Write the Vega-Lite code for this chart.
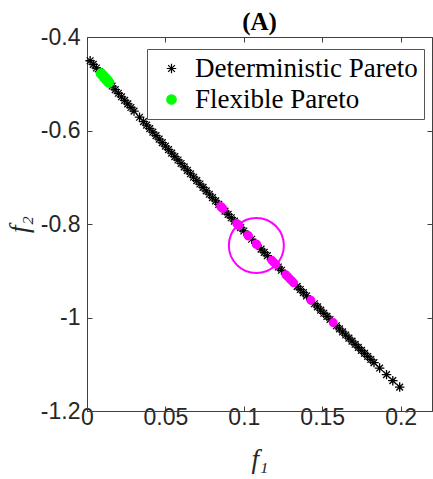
{
  "$schema": "https://vega.github.io/schema/vega-lite/v6.json",
  "width": 345,
  "height": 374,
  "autosize": {"type": "none"},
  "padding": {"left": 87, "top": 37, "right": 1, "bottom": 68},
  "title": {"text": "(A)", "font": "Liberation Serif", "fontSize": 25, "fontWeight": "bold", "color": "#000000", "anchor": "middle", "offset": 6, "dy": 15},
  "config": {
    "view": {"stroke": "#404040", "strokeWidth": 1},
    "axis": {"grid": false, "labelFont": "Liberation Sans", "labelFontSize": 23, "labelColor": "#262626", "tickColor": "#404040", "domainColor": "#404040", "labelFlush": false, "labelOverlap": false, "tickSize": -5}
  },
  "datasets": {
    "pts": [
      {"f1": 0.002, "f2": -0.4508, "series": "Deterministic Pareto"},
      {"f1": 0.004, "f2": -0.4586, "series": "Deterministic Pareto"},
      {"f1": 0.006, "f2": -0.4663, "series": "Deterministic Pareto"},
      {"f1": 0.008, "f2": -0.4741, "series": "Deterministic Pareto"},
      {"f1": 0.010, "f2": -0.4818, "series": "Deterministic Pareto"},
      {"f1": 0.012, "f2": -0.4895, "series": "Deterministic Pareto"},
      {"f1": 0.014, "f2": -0.4972, "series": "Deterministic Pareto"},
      {"f1": 0.016, "f2": -0.5049, "series": "Deterministic Pareto"},
      {"f1": 0.018, "f2": -0.5126, "series": "Deterministic Pareto"},
      {"f1": 0.020, "f2": -0.5203, "series": "Deterministic Pareto"},
      {"f1": 0.022, "f2": -0.5279, "series": "Deterministic Pareto"},
      {"f1": 0.024, "f2": -0.5356, "series": "Deterministic Pareto"},
      {"f1": 0.026, "f2": -0.5432, "series": "Deterministic Pareto"},
      {"f1": 0.028, "f2": -0.5508, "series": "Deterministic Pareto"},
      {"f1": 0.030, "f2": -0.5584, "series": "Deterministic Pareto"},
      {"f1": 0.0335, "f2": -0.5716, "series": "Deterministic Pareto"},
      {"f1": 0.036, "f2": -0.5811, "series": "Deterministic Pareto"},
      {"f1": 0.038, "f2": -0.5886, "series": "Deterministic Pareto"},
      {"f1": 0.040, "f2": -0.5961, "series": "Deterministic Pareto"},
      {"f1": 0.042, "f2": -0.6036, "series": "Deterministic Pareto"},
      {"f1": 0.044, "f2": -0.6111, "series": "Deterministic Pareto"},
      {"f1": 0.046, "f2": -0.6186, "series": "Deterministic Pareto"},
      {"f1": 0.048, "f2": -0.6261, "series": "Deterministic Pareto"},
      {"f1": 0.050, "f2": -0.6335, "series": "Deterministic Pareto"},
      {"f1": 0.052, "f2": -0.6409, "series": "Deterministic Pareto"},
      {"f1": 0.054, "f2": -0.6484, "series": "Deterministic Pareto"},
      {"f1": 0.056, "f2": -0.6558, "series": "Deterministic Pareto"},
      {"f1": 0.058, "f2": -0.6631, "series": "Deterministic Pareto"},
      {"f1": 0.060, "f2": -0.6705, "series": "Deterministic Pareto"},
      {"f1": 0.062, "f2": -0.6779, "series": "Deterministic Pareto"},
      {"f1": 0.064, "f2": -0.6852, "series": "Deterministic Pareto"},
      {"f1": 0.066, "f2": -0.6926, "series": "Deterministic Pareto"},
      {"f1": 0.068, "f2": -0.6999, "series": "Deterministic Pareto"},
      {"f1": 0.070, "f2": -0.7072, "series": "Deterministic Pareto"},
      {"f1": 0.072, "f2": -0.7145, "series": "Deterministic Pareto"},
      {"f1": 0.074, "f2": -0.7217, "series": "Deterministic Pareto"},
      {"f1": 0.076, "f2": -0.7290, "series": "Deterministic Pareto"},
      {"f1": 0.078, "f2": -0.7363, "series": "Deterministic Pareto"},
      {"f1": 0.080, "f2": -0.7435, "series": "Deterministic Pareto"},
      {"f1": 0.082, "f2": -0.7507, "series": "Deterministic Pareto"},
      {"f1": 0.084, "f2": -0.7579, "series": "Deterministic Pareto"},
      {"f1": 0.088, "f2": -0.7723, "series": "Deterministic Pareto"},
      {"f1": 0.090, "f2": -0.7794, "series": "Deterministic Pareto"},
      {"f1": 0.092, "f2": -0.7866, "series": "Deterministic Pareto"},
      {"f1": 0.094, "f2": -0.7937, "series": "Deterministic Pareto"},
      {"f1": 0.098, "f2": -0.8079, "series": "Deterministic Pareto"},
      {"f1": 0.100, "f2": -0.8150, "series": "Deterministic Pareto"},
      {"f1": 0.105, "f2": -0.8326, "series": "Deterministic Pareto"},
      {"f1": 0.111, "f2": -0.8537, "series": "Deterministic Pareto"},
      {"f1": 0.113, "f2": -0.8607, "series": "Deterministic Pareto"},
      {"f1": 0.115, "f2": -0.8677, "series": "Deterministic Pareto"},
      {"f1": 0.122, "f2": -0.8920, "series": "Deterministic Pareto"},
      {"f1": 0.124, "f2": -0.8989, "series": "Deterministic Pareto"},
      {"f1": 0.134, "f2": -0.9333, "series": "Deterministic Pareto"},
      {"f1": 0.136, "f2": -0.9401, "series": "Deterministic Pareto"},
      {"f1": 0.138, "f2": -0.9469, "series": "Deterministic Pareto"},
      {"f1": 0.140, "f2": -0.9537, "series": "Deterministic Pareto"},
      {"f1": 0.145, "f2": -0.9706, "series": "Deterministic Pareto"},
      {"f1": 0.147, "f2": -0.9774, "series": "Deterministic Pareto"},
      {"f1": 0.149, "f2": -0.9842, "series": "Deterministic Pareto"},
      {"f1": 0.151, "f2": -0.9909, "series": "Deterministic Pareto"},
      {"f1": 0.153, "f2": -0.9976, "series": "Deterministic Pareto"},
      {"f1": 0.155, "f2": -1.0042, "series": "Deterministic Pareto"},
      {"f1": 0.159, "f2": -1.0176, "series": "Deterministic Pareto"},
      {"f1": 0.161, "f2": -1.0242, "series": "Deterministic Pareto"},
      {"f1": 0.163, "f2": -1.0309, "series": "Deterministic Pareto"},
      {"f1": 0.165, "f2": -1.0375, "series": "Deterministic Pareto"},
      {"f1": 0.167, "f2": -1.0441, "series": "Deterministic Pareto"},
      {"f1": 0.169, "f2": -1.0507, "series": "Deterministic Pareto"},
      {"f1": 0.171, "f2": -1.0573, "series": "Deterministic Pareto"},
      {"f1": 0.173, "f2": -1.0638, "series": "Deterministic Pareto"},
      {"f1": 0.175, "f2": -1.0704, "series": "Deterministic Pareto"},
      {"f1": 0.177, "f2": -1.0769, "series": "Deterministic Pareto"},
      {"f1": 0.179, "f2": -1.0834, "series": "Deterministic Pareto"},
      {"f1": 0.181, "f2": -1.0899, "series": "Deterministic Pareto"},
      {"f1": 0.183, "f2": -1.0964, "series": "Deterministic Pareto"},
      {"f1": 0.1866, "f2": -1.1081, "series": "Deterministic Pareto"},
      {"f1": 0.191, "f2": -1.1222, "series": "Deterministic Pareto"},
      {"f1": 0.195, "f2": -1.1351, "series": "Deterministic Pareto"},
      {"f1": 0.1994, "f2": -1.1488, "series": "Deterministic Pareto"},
      {"f1": 0.009, "f2": -0.4780, "series": "Flexible Pareto"},
      {"f1": 0.010, "f2": -0.4818, "series": "Flexible Pareto"},
      {"f1": 0.011, "f2": -0.4857, "series": "Flexible Pareto"},
      {"f1": 0.012, "f2": -0.4895, "series": "Flexible Pareto"},
      {"f1": 0.013, "f2": -0.4934, "series": "Flexible Pareto"},
      {"f1": 0.014, "f2": -0.4972, "series": "Flexible Pareto"}
    ],
    "chosen": [
      {"f1": 0.0853, "f2": -0.7626},
      {"f1": 0.0860, "f2": -0.7651},
      {"f1": 0.0866, "f2": -0.7672},
      {"f1": 0.0955, "f2": -0.7990},
      {"f1": 0.0962, "f2": -0.8015},
      {"f1": 0.0968, "f2": -0.8037},
      {"f1": 0.1025, "f2": -0.8238},
      {"f1": 0.1030, "f2": -0.8256},
      {"f1": 0.1078, "f2": -0.8425},
      {"f1": 0.1082, "f2": -0.8439},
      {"f1": 0.1178, "f2": -0.8774},
      {"f1": 0.1190, "f2": -0.8816},
      {"f1": 0.1204, "f2": -0.8865},
      {"f1": 0.1268, "f2": -0.9086},
      {"f1": 0.1280, "f2": -0.9127},
      {"f1": 0.1293, "f2": -0.9172},
      {"f1": 0.1305, "f2": -0.9213},
      {"f1": 0.1318, "f2": -0.9258},
      {"f1": 0.1427, "f2": -0.9629},
      {"f1": 0.1570, "f2": -1.0109}
    ],
    "ring": [{"f1": 0.108, "f2": -0.846}]
  },
  "layer": [
    {
      "data": {"name": "pts"},
      "mark": {"type": "point", "filled": true, "strokeWidth": 1.3, "opacity": 1, "size": 90},
      "encoding": {
        "x": {"field": "f1", "type": "quantitative", "scale": {"domain": [0, 0.22], "nice": false, "zero": false},
          "axis": {"orient": "bottom", "values": [0, 0.05, 0.1, 0.15, 0.2], "labelExpr": "'' + datum.value", "labelPadding": 0, "title": "f₁", "titleFont": "Liberation Serif", "titleFontStyle": "italic", "titleFontWeight": "normal", "titleFontSize": 27, "titleColor": "#262626", "titlePadding": 17}},
        "y": {"field": "f2", "type": "quantitative", "scale": {"domain": [-1.2, -0.4], "nice": false, "zero": false},
          "axis": {"orient": "left", "values": [-1.2, -1, -0.8, -0.6, -0.4], "labelExpr": "'' + datum.value", "labelPadding": 12, "title": "f₂", "titleFont": "Liberation Serif", "titleFontStyle": "italic", "titleFontWeight": "normal", "titleFontSize": 27, "titleColor": "#262626", "titlePadding": 7}},
        "color": {"field": "series", "type": "nominal", "scale": {"domain": ["Deterministic Pareto", "Flexible Pareto"], "range": ["#000000", "#00FF00"]},
          "legend": {"title": null, "orient": "none", "legendX": 60, "legendY": 12, "labelFont": "Liberation Serif", "labelFontSize": 27, "labelColor": "#000000", "symbolSize": 90, "symbolStrokeWidth": 1.2, "strokeColor": "#555555", "fillColor": "#ffffff", "padding": 6, "rowPadding": 3, "symbolOffset": 5, "labelOffset": 10, "labelLimit": 400}},
        "stroke": {"field": "series", "type": "nominal", "scale": {"domain": ["Deterministic Pareto", "Flexible Pareto"], "range": ["#000000", "#00FF00"]}, "legend": null},
        "shape": {"field": "series", "type": "nominal", "scale": {"domain": ["Deterministic Pareto", "Flexible Pareto"], "range": ["M-1,0L1,0M0,-1L0,1M-0.71,-0.71L0.71,0.71M-0.71,0.71L0.71,-0.71", "circle"]}, "legend": null}
      }
    },
    {
      "data": {"name": "chosen"},
      "mark": {"type": "point", "filled": true, "color": "#FF00FF", "size": 80, "opacity": 1},
      "encoding": {
        "x": {"field": "f1", "type": "quantitative", "axis": {"orient": "top", "values": [0, 0.05, 0.1, 0.15, 0.2], "labels": false, "domain": false, "title": null}},
        "y": {"field": "f2", "type": "quantitative", "axis": {"orient": "right", "values": [-1.2, -1, -0.8, -0.6, -0.4], "labels": false, "domain": false, "title": null}}
      }
    },
    {
      "data": {"name": "ring"},
      "mark": {"type": "point", "shape": "circle", "filled": false, "color": "#FF00FF", "strokeWidth": 2, "size": 3025, "opacity": 1},
      "encoding": {
        "x": {"field": "f1", "type": "quantitative", "axis": null},
        "y": {"field": "f2", "type": "quantitative", "axis": null}
      }
    }
  ],
  "resolve": {"axis": {"x": "independent", "y": "independent"}}
}
